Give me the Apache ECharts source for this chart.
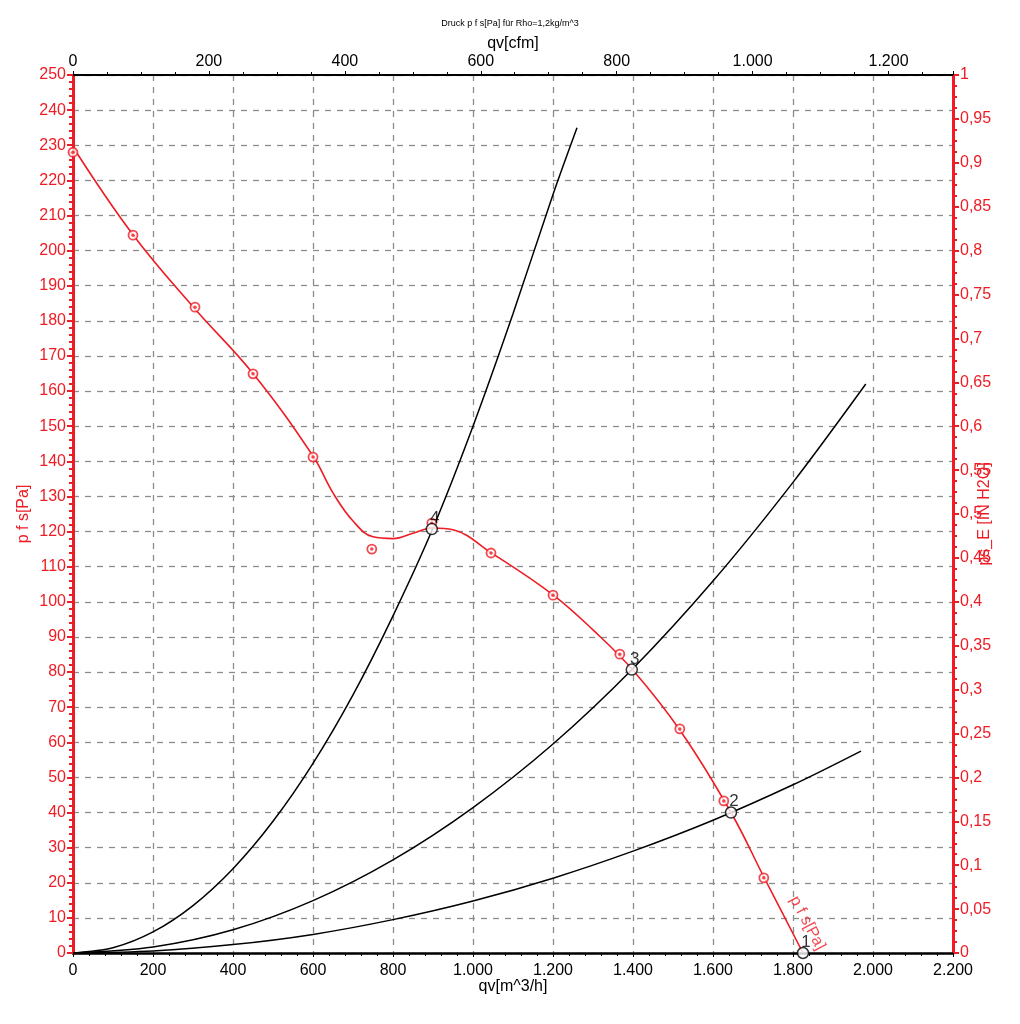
<!DOCTYPE html>
<html><head><meta charset="utf-8">
<script src="https://cdn.jsdelivr.net/npm/echarts@6/dist/echarts.min.js"></script>
<style>html,body{margin:0;padding:0;background:#fff;overflow:hidden}#c{width:1020px;height:1024px}</style>
</head><body><div id="c"></div>
<script>
const RED = '#ee1c24';
const FONT = '"Liberation Sans", Arial, sans-serif';

// Fan curve p_fs [Pa] vs qv [m^3/h] (smoothed line)
const fanLineQ = [0, 150, 300, 450, 600, 650, 700, 750, 800, 850, 900, 950, 1045, 1200, 1300, 1400, 1520, 1645, 1730, 1825];
const fanLineP = [229.5, 204.5, 184, 165, 141.5, 131, 123, 118.5, 118, 119.5, 121, 120.5, 114, 102, 92, 80.5, 63, 40, 21, 0];

// Measured points on fan curve
const fanMarkQ = [0, 150, 305, 450, 600, 747, 897, 1045, 1200, 1367, 1517, 1627, 1727];
const fanMarkP = [228, 204.4, 183.9, 164.9, 141.2, 115.0, 122.4, 113.9, 101.9, 85.1, 63.8, 43.3, 21.4];

// System curves
const sysAQ = [0, 100, 200, 300, 400, 500, 600, 700, 800, 900, 1000, 1100, 1200, 1260];
const sysAP = [0, 1.5, 6, 13.5, 24, 37.5, 54, 73.5, 96, 121, 150, 182, 216, 235];
const sysBQ = [0, 200, 400, 600, 800, 1000, 1200, 1400, 1600, 1800, 1982];
const sysBP = [0, 1.7, 6.6, 14.9, 26.5, 41.4, 59.5, 81, 105.9, 134, 162];
const sysCQ = [0, 200, 400, 600, 800, 1000, 1200, 1400, 1600, 1800, 1970];
const sysCP = [0, 0.6, 2.4, 5.3, 9.5, 14.8, 21.3, 29, 37.8, 47.9, 57.5];

// Operating points
const opNames = ['1', '2', '3', '4'];
const opQ = [1825, 1645, 1397, 897];
const opP = [0, 40, 80.7, 120.7];

const CFM = 1.69901;
const titleText = 'Druck p f s[Pa] für Rho=1,2kg/m^3';

function pairs(xs, ys) { return xs.map((x, i) => [x, ys[i]]); }
function thousands(v) {
  v = Math.round(v);
  if (v >= 1000) return Math.floor(v / 1000) + '.' + String(v % 1000).padStart(3, '0');
  return String(v);
}

const chart = echarts.init(document.getElementById('c'), null, { renderer: 'canvas', width: 1020, height: 1024 });
const dash = { show: true, lineStyle: { color: '#8c8c8c', type: [6, 6], width: 1.3 } };

chart.setOption({
  animation: false,
  backgroundColor: '#fff',
  textStyle: { fontFamily: FONT },
  title: {
    text: titleText, left: 'center', top: 14,
    textStyle: { fontSize: 9, fontWeight: 'normal', color: '#000', fontFamily: FONT }
  },
  grid: { left: 73, right: 67, top: 75, bottom: 71, containLabel: false, outerBoundsMode: 'none' },
  xAxis: [
    {
      type: 'value', position: 'bottom', min: 0, max: 2200, interval: 200,
      name: 'qv[m^3/h]', nameLocation: 'middle', nameGap: 26, nameMoveOverlap: false,
      nameTextStyle: { color: '#000', fontSize: 16, fontFamily: FONT },
      axisLine: { show: true, onZero: false, lineStyle: { color: '#000', width: 2.5 } },
      axisTick: { show: true, inside: false, length: 4, lineStyle: { color: '#000' } },
      minorTick: { show: true, splitNumber: 5, length: 3, lineStyle: { color: '#000' } },
      axisLabel: { color: '#000', fontSize: 16, margin: 10, formatter: thousands, fontFamily: FONT },
      splitLine: dash
    },
    {
      type: 'value', position: 'top', min: 0, max: 2200 / CFM, interval: 200,
      name: 'qv[cfm]', nameLocation: 'middle', nameGap: 23, nameMoveOverlap: false,
      nameTextStyle: { color: '#000', fontSize: 16, fontFamily: FONT },
      axisLine: { show: true, onZero: false, lineStyle: { color: '#000', width: 2 } },
      axisTick: { show: true, inside: false, length: 4, lineStyle: { color: '#000' } },
      minorTick: { show: true, splitNumber: 4, length: 3, lineStyle: { color: '#000' } },
      axisLabel: { color: '#000', fontSize: 16, margin: 5, formatter: thousands, showMaxLabel: false, fontFamily: FONT },
      splitLine: { show: false }
    }
  ],
  yAxis: [
    {
      type: 'value', position: 'left', min: 0, max: 250, interval: 10,
      name: 'p f s[Pa]', nameLocation: 'middle', nameGap: 41, nameRotate: 90, nameMoveOverlap: false,
      nameTextStyle: { color: RED, fontSize: 16, fontFamily: FONT },
      axisLine: { show: true, onZero: false, lineStyle: { color: RED, width: 3 } },
      axisTick: { show: true, inside: false, length: 6, lineStyle: { color: RED, width: 2 } },
      minorTick: { show: true, splitNumber: 5, length: 4, lineStyle: { color: RED, width: 2 } },
      axisLabel: { color: RED, fontSize: 16, margin: 7, fontFamily: FONT },
      splitLine: dash
    },
    {
      type: 'value', position: 'right', min: 0, max: 1, interval: 0.05,
      name: 'ps_E [IN H2O]', nameLocation: 'middle', nameGap: 24, nameRotate: 90, nameMoveOverlap: false,
      nameTextStyle: { color: RED, fontSize: 16, fontFamily: FONT },
      axisLine: { show: true, onZero: false, lineStyle: { color: RED, width: 3 } },
      axisTick: { show: true, inside: false, length: 6, lineStyle: { color: RED, width: 2 } },
      minorTick: { show: true, splitNumber: 4, length: 4, lineStyle: { color: RED, width: 2 } },
      axisLabel: {
        color: RED, fontSize: 16, margin: 7, fontFamily: FONT,
        formatter: v => String(Math.round(v * 100) / 100).replace('.', ',')
      },
      splitLine: { show: false }
    }
  ],
  series: [
    {
      type: 'line', name: 'sysA', data: pairs(sysAQ, sysAP), smooth: 0.3, showSymbol: false,
      lineStyle: { color: '#000', width: 1.5 }, z: 3
    },
    {
      type: 'line', name: 'sysB', data: pairs(sysBQ, sysBP), smooth: 0.3, showSymbol: false,
      lineStyle: { color: '#000', width: 1.5 }, z: 3
    },
    {
      type: 'line', name: 'sysC', data: pairs(sysCQ, sysCP), smooth: 0.3, showSymbol: false,
      lineStyle: { color: '#000', width: 1.5 }, z: 3
    },
    {
      type: 'line', name: 'fan', data: pairs(fanLineQ, fanLineP), smooth: 0.4, showSymbol: false,
      lineStyle: { color: RED, width: 1.6 }, z: 4
    },
    {
      type: 'scatter', name: 'fanMarks', data: pairs(fanMarkQ, fanMarkP), symbol: 'circle', symbolSize: 9,
      itemStyle: { color: '#fff', borderColor: RED, borderWidth: 1.8 }, z: 5
    },
    {
      type: 'scatter', name: 'fanMarksDot', data: pairs(fanMarkQ, fanMarkP), symbol: 'circle', symbolSize: 3.5,
      itemStyle: { color: RED }, z: 6
    },
    {
      type: 'scatter', name: 'op',
      data: opQ.map((q, i) => ({ name: opNames[i], value: [q, opP[i]] })),
      symbol: 'circle', symbolSize: 11,
      itemStyle: { color: '#fff', borderColor: '#000', borderWidth: 1.5 }, z: 7,
      label: {
        show: true, position: 'top', distance: 0, offset: [3, 4], formatter: p => p.name,
        color: '#000', fontSize: 17, fontFamily: FONT
      }
    },
    {
      type: 'scatter', name: 'fanLabel', data: [{ value: [1836, 8.5] }],
      symbolSize: 0, silent: true, z: 8,
      label: {
        show: true, position: 'inside', formatter: 'p f s[Pa]', rotate: -62,
        color: RED, fontSize: 16, fontFamily: FONT
      }
    }
  ]
});
</script>
</body></html>
